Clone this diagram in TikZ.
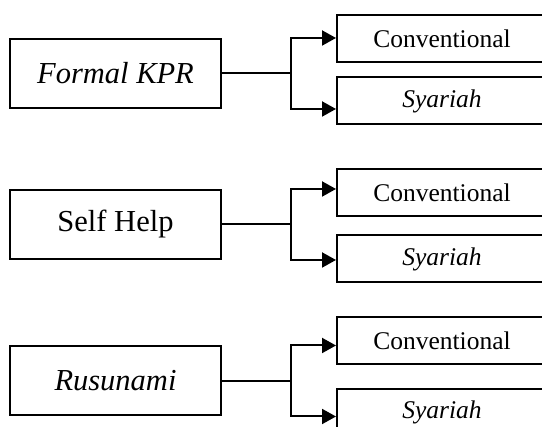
\documentclass[tikz,border=0pt]{standalone}
\usepackage{fontspec}
\setmainfont{Liberation Serif}
\usetikzlibrary{arrows.meta,positioning}

\begin{document}
\begin{tikzpicture}[x=1pt,y=1pt,>={Triangle[length=14pt,width=15pt]},line width=2pt,
  mainbox/.style={draw,minimum width=211pt,minimum height=69pt,inner sep=0pt,font=\fontsize{30.5}{36}\selectfont},
  subbox/.style={draw,minimum width=210pt,minimum height=47pt,inner sep=0pt,font=\fontsize{25.5}{30}\selectfont}]
  \useasboundingbox (0,0) rectangle (542,427);
  \clip (0,0) rectangle (542,427);
  % Rows: name/label/y of main box/y of Conventional/y of Syariah
  \foreach \n/\lbl/\ym/\yc/\ys in {f/\textit{Formal KPR}/353.5/388.5/326, h/Self Help/202.5/234.5/168, r/\textit{Rusunami}/46/86/14.5}{
    \node[mainbox] (m\n) at (115.5,\ym) {\lbl};
    \node[subbox] (c\n) at (442,\yc) {Conventional};
    \node[subbox] (s\n) at (442,\ys) {\textit{Syariah}};
    \coordinate[right=69pt of m\n.east] (j\n);
    \draw (m\n.east) -- (j\n);
    \draw[->] (j\n) |- (m\n.north -| c\n.west);
    \draw[->] (j\n) |- (m\n.south -| s\n.west);
  }
\end{tikzpicture}
\end{document}
